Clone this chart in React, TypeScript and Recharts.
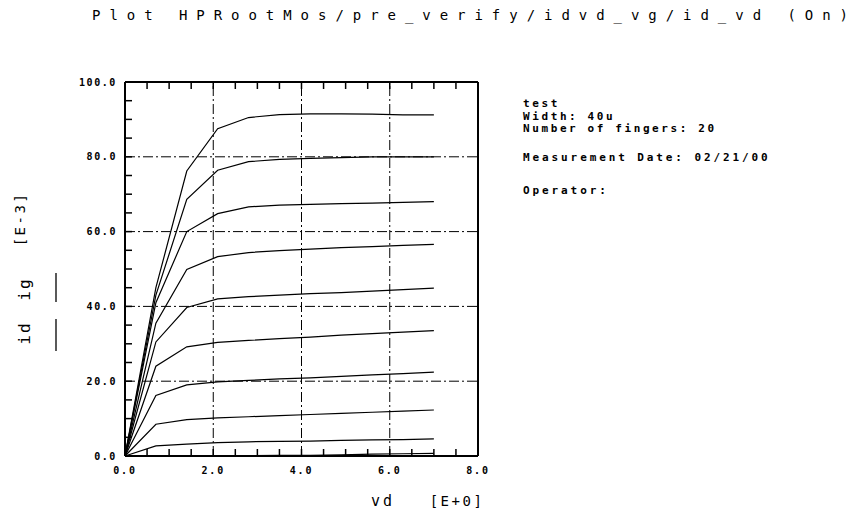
import React from 'react';
import { LineChart, Line, XAxis, YAxis, ReferenceLine } from 'recharts';

// Drain voltage sweep (V)
const vdValues = [0, 0.7, 1.4, 2.1, 2.8, 3.5, 4.2, 4.9, 5.6, 6.3, 7.0];

// Drain current (E-3 A), one curve per gate-voltage step
const idVg1 = [0, 0.05, 0.08, 0.1, 0.12, 0.15, 0.2, 0.3, 0.5, 0.6, 0.7];
const idVg2 = [0, 2.7, 3.2, 3.6, 3.8, 3.9, 4.0, 4.2, 4.3, 4.4, 4.6];
const idVg3 = [0, 8.5, 9.7, 10.2, 10.5, 10.8, 11.1, 11.4, 11.7, 12.0, 12.3];
const idVg4 = [0, 16.2, 19.0, 19.8, 20.2, 20.6, 20.9, 21.3, 21.7, 22.0, 22.4];
const idVg5 = [0, 24.0, 29.2, 30.4, 30.9, 31.4, 31.8, 32.3, 32.7, 33.1, 33.5];
const idVg6 = [0, 30.5, 39.7, 42.0, 42.6, 43.0, 43.4, 43.7, 44.1, 44.5, 44.9];
const idVg7 = [0, 35.5, 49.9, 53.3, 54.4, 54.9, 55.3, 55.7, 56.0, 56.3, 56.6];
const idVg8 = [0, 41.0, 60.0, 64.8, 66.6, 67.1, 67.3, 67.5, 67.6, 67.8, 68.0];
const idVg9 = [0, 43.0, 68.6, 76.4, 78.7, 79.3, 79.6, 79.8, 80.0, 80.0, 80.0];
const idVg10 = [0, 45.0, 76.2, 87.5, 90.5, 91.3, 91.5, 91.5, 91.4, 91.2, 91.2];

const xTicks = [0, 0.5, 1, 1.5, 2, 2.5, 3, 3.5, 4, 4.5, 5, 5.5, 6, 6.5, 7, 7.5, 8];
const yTicks = [0, 5, 10, 15, 20, 25, 30, 35, 40, 45, 50, 55, 60, 65, 70, 75, 80, 85, 90, 95, 100];
const xMajor = [2, 4, 6];
const yMajor = [20, 40, 60, 80];

const titleText = 'Plot HPRootMos/pre_verify/idvd_vg/id_vd  (On)';
const infoLines = ['test', 'Width: 40u', 'Number of fingers: 20'];
const dateLine = 'Measurement Date: 02/21/00';
const operatorLine = 'Operator:';

const series = [idVg1, idVg2, idVg3, idVg4, idVg5, idVg6, idVg7, idVg8, idVg9, idVg10];
const data = vdValues.map((vd, i) => {
  const row: Record<string, number> = { vd };
  series.forEach((s, k) => {
    row['c' + k] = s[i];
  });
  return row;
});

const W = 850;
const H = 512;
const PLOT_LEFT = 125;
const PLOT_RIGHT = 478;
const PLOT_TOP = 82;
const PLOT_BOTTOM = 456;
const TICK = 7;
const MONO = '"DejaVu Sans Mono", "Liberation Mono", monospace';

const XTick = (props: any) => {
  const { x, payload } = props;
  const v = payload.value as number;
  const major = Math.abs(v % 2) < 1e-9;
  return (
    <g>
      <line x1={x} x2={x} y1={PLOT_BOTTOM} y2={PLOT_BOTTOM - TICK} stroke="#000" strokeWidth={1.5} />
      <line x1={x} x2={x} y1={PLOT_TOP} y2={PLOT_TOP + TICK} stroke="#000" strokeWidth={1.5} />
      {major && (
        <text x={x} y={474} textAnchor="middle" fontFamily={MONO} fontWeight="bold" fontSize={10} letterSpacing={1.8} fill="#000">
          {v.toFixed(1)}
        </text>
      )}
    </g>
  );
};

const YTick = (props: any) => {
  const { y, payload } = props;
  const v = payload.value as number;
  const major = Math.abs(v % 20) < 1e-9;
  return (
    <g>
      <line x1={PLOT_LEFT} x2={PLOT_LEFT + TICK} y1={y} y2={y} stroke="#000" strokeWidth={1.5} />
      {major && (
        <text x={117} y={y + 3.5} textAnchor="end" fontFamily={MONO} fontWeight="bold" fontSize={10} letterSpacing={1.6} fill="#000">
          {v.toFixed(1)}
        </text>
      )}
    </g>
  );
};

export default function App() {
  return (
    <div style={{ position: 'absolute', left: 0, top: 0, width: W, height: H, background: '#fff' }}>
      <LineChart
        width={W}
        height={H}
        data={data}
        margin={{ top: PLOT_TOP, right: W - PLOT_RIGHT, bottom: 0, left: 0 }}
      >
        <XAxis
          dataKey="vd"
          type="number"
          domain={[0, 8]}
          ticks={xTicks}
          interval={0}
          height={H - PLOT_BOTTOM}
          axisLine={false}
          tickLine={false}
          tick={<XTick />}
        />
        <YAxis
          type="number"
          domain={[0, 100]}
          ticks={yTicks}
          interval={0}
          width={PLOT_LEFT}
          axisLine={false}
          tickLine={false}
          tick={<YTick />}
        />
        {xMajor.map((v) => (
          <ReferenceLine key={'gx' + v} x={v} stroke="#000" strokeWidth={1} strokeDasharray="10 3 2 3" />
        ))}
        {yMajor.map((v) => (
          <ReferenceLine key={'gy' + v} y={v} stroke="#000" strokeWidth={1} strokeDasharray="10 3 2 3" />
        ))}
        {series.map((_, k) => (
          <Line
            key={'c' + k}
            dataKey={'c' + k}
            type="linear"
            stroke="#000"
            strokeWidth={1.2}
            dot={false}
            activeDot={false}
            isAnimationActive={false}
          />
        ))}
        <ReferenceLine x={0} stroke="#000" strokeWidth={2} />
        <ReferenceLine x={8} stroke="#000" strokeWidth={2} />
        <ReferenceLine y={0} stroke="#000" strokeWidth={2} />
        <ReferenceLine y={100} stroke="#000" strokeWidth={2} />
      </LineChart>
      <svg width={W} height={H} style={{ position: 'absolute', left: 0, top: 0, pointerEvents: 'none' }}>
        <text x={92} y={20} fontFamily={MONO} fontSize={14} textLength={756} lengthAdjust="spacing" fill="#000">
          {titleText}
        </text>
        {infoLines.map((t, i) => (
          <text key={t} x={523} y={107 + i * 12.5} fontFamily={MONO} fontWeight="bold" fontSize={11} letterSpacing={2.6} fill="#000">
            {t}
          </text>
        ))}
        <text x={523} y={161} fontFamily={MONO} fontWeight="bold" fontSize={11} letterSpacing={2.9} fill="#000">
          {dateLine}
        </text>
        <text x={523} y={194} fontFamily={MONO} fontWeight="bold" fontSize={11} letterSpacing={2.9} fill="#000">
          {operatorLine}
        </text>
        <text x={383} y={506} textAnchor="middle" fontFamily={MONO} fontSize={15} letterSpacing={3} fill="#000">
          vd
        </text>
        <text x={457} y={506} textAnchor="middle" fontFamily={MONO} fontSize={14} letterSpacing={2.5} fill="#000">
          [E+0]
        </text>
        <text transform="translate(30,333) rotate(-90)" textAnchor="middle" fontFamily={MONO} fontSize={16} letterSpacing={2} fill="#000">
          id
        </text>
        <text transform="translate(30,289) rotate(-90)" textAnchor="middle" fontFamily={MONO} fontSize={16} letterSpacing={2} fill="#000">
          ig
        </text>
        <text transform="translate(25,219) rotate(-90)" textAnchor="middle" fontFamily={MONO} fontSize={14} letterSpacing={2.5} fill="#000">
          [E-3]
        </text>
        <line x1={56} x2={56} y1={319} y2={351} stroke="#000" strokeWidth={1.3} />
        <line x1={56} x2={56} y1={273} y2={302} stroke="#000" strokeWidth={1.3} />
      </svg>
    </div>
  );
}
